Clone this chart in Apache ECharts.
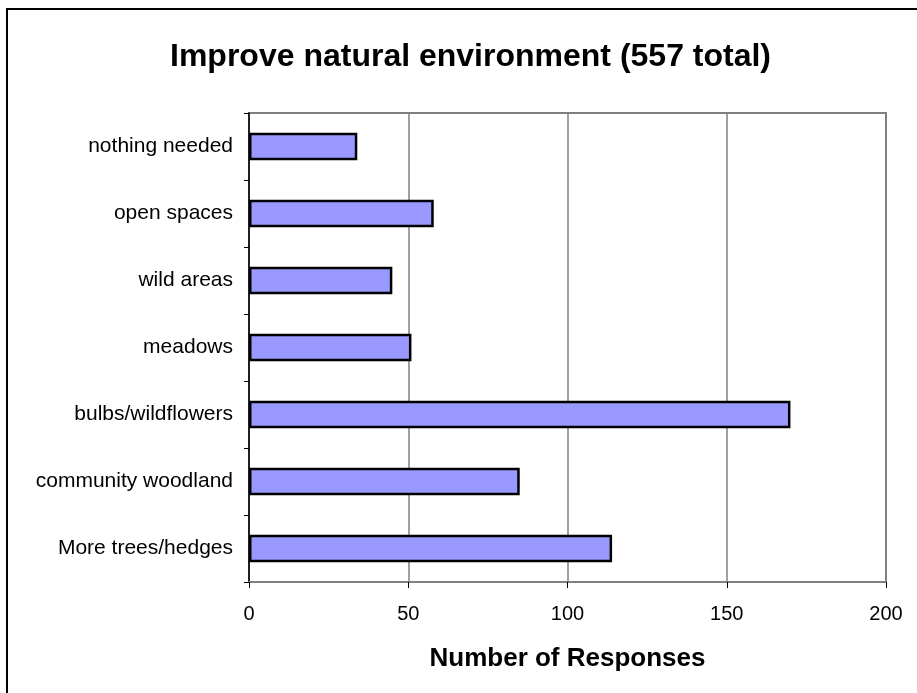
<!DOCTYPE html>
<html>
<head>
<meta charset="utf-8">
<script src="https://cdn.jsdelivr.net/npm/echarts@6/dist/echarts.min.js"></script>
<style>
html,body{margin:0;padding:0;background:#fff;}
#chart{width:917px;height:693px;}
</style>
</head>
<body>
<div id="chart"></div>
<script>
// Categories listed bottom-to-top (ECharts category y-axis order)
var categories = ["More trees/hedges", "community woodland", "bulbs/wildflowers", "meadows", "wild areas", "open spaces", "nothing needed"];
var responses = [114, 85, 170, 51, 45, 58, 34];
var xTicks = [0, 50, 100, 150, 200];

var FONT = "'Liberation Sans', Arial, sans-serif";
var chart = echarts.init(document.getElementById('chart'));
chart.setOption({
  backgroundColor: '#fff',
  animation: false,
  title: {
    text: 'Improve natural environment (557 total)',
    left: 165,
    top: 36,
    textStyle: {fontFamily: FONT, fontSize: 32, fontWeight: 'bold', color: '#000'}
  },
  graphic: [{
    type: 'rect',
    shape: {x: 7, y: 9, width: 930, height: 700},
    style: {fill: 'none', stroke: '#000', lineWidth: 2},
    silent: true
  }],
  grid: {
    left: 249, right: 31, top: 113, bottom: 111,
    show: true, borderColor: '#808080', borderWidth: 2, backgroundColor: 'transparent'
  },
  xAxis: {
    type: 'value',
    min: xTicks[0],
    max: xTicks[xTicks.length - 1],
    interval: 50,
    name: 'Number of Responses',
    nameLocation: 'middle',
    nameGap: 64,
    nameTextStyle: {fontFamily: FONT, fontSize: 26, fontWeight: 'bold', color: '#000'},
    axisLine: {show: true, lineStyle: {color: '#808080', width: 2}},
    axisTick: {show: true, length: 6, lineStyle: {color: '#000', width: 1}},
    axisLabel: {fontFamily: FONT, fontSize: 20, color: '#000', margin: 22},
    splitLine: {show: true, lineStyle: {color: '#808080', width: 1.5}}
  },
  yAxis: {
    type: 'category',
    data: categories,
    axisLine: {show: true, lineStyle: {color: '#000', width: 1.5}},
    axisTick: {show: true, length: 5, inside: false, lineStyle: {color: '#000', width: 1}},
    axisLabel: {fontFamily: FONT, fontSize: 21, color: '#000', margin: 16},
    splitLine: {show: false}
  },
  series: [{
    type: 'bar',
    data: responses,
    barWidth: '41%',
    itemStyle: {color: '#9999ff', borderColor: '#000', borderWidth: 2.5}
  }]
});
</script>
</body>
</html>
